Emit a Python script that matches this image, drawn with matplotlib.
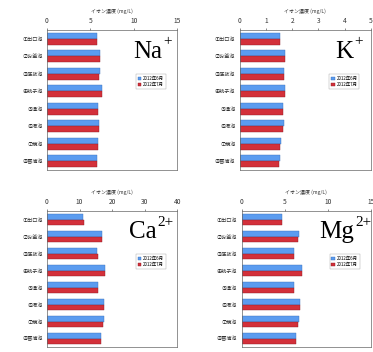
import numpy as np
import matplotlib.pyplot as plt

plt.rcParams['font.family'] = ['Noto Sans CJK JP', 'DejaVu Sans']

# Oshino Hakkai ponds
ponds = ['①出口池', '②お釜池', '③底抜池', '④銚子池', '⑤湧池', '⑥濁池', '⑦鏡池', '⑧菖蒲池']
series = ['2012年6月', '2012年7月']

na_jun = [5.8, 6.1, 6.1, 6.3, 5.9, 6.0, 5.9, 5.8]
na_jul = [5.8, 6.1, 6.0, 6.3, 5.9, 6.0, 5.9, 5.8]
k_jun = [1.53, 1.72, 1.70, 1.72, 1.64, 1.67, 1.56, 1.52]
k_jul = [1.53, 1.72, 1.69, 1.72, 1.63, 1.66, 1.53, 1.49]
ca_jun = [11.0, 16.9, 15.4, 17.8, 15.8, 17.5, 17.4, 16.7]
ca_jul = [11.3, 16.9, 15.6, 17.9, 15.7, 17.5, 17.1, 16.7]
mg_jun = [4.7, 6.65, 6.1, 6.95, 6.1, 6.75, 6.65, 6.35]
mg_jul = [4.7, 6.6, 6.1, 6.95, 6.1, 6.75, 6.55, 6.35]

panels = [
    ('Na', '+', na_jun, na_jul, 15, [0, 5, 10, 15]),
    ('K', '+', k_jun, k_jul, 5, [0, 1, 2, 3, 4, 5]),
    ('Ca', '2+', ca_jun, ca_jul, 40, [0, 10, 20, 30, 40]),
    ('Mg', '2+', mg_jun, mg_jul, 15, [0, 5, 10, 15]),
]

rects = [
    [0.126, 0.517, 0.349, 0.398],
    [0.643, 0.517, 0.351, 0.398],
    [0.126, 0.014, 0.349, 0.386],
    [0.648, 0.014, 0.346, 0.386],
]
label_x = [0.66, 0.73, 0.63, 0.60]

fig = plt.figure(figsize=(3.73, 3.52), dpi=100)
y = np.arange(len(ponds))
h = 0.34
for (ion, charge, jun, jul, xmax, ticks), rect, lx in zip(panels, rects, label_x):
    ax = fig.add_axes(rect)
    ax.barh(y - h / 2, jun, height=h, color='#5b9cf0', edgecolor='#3a6fb8',
            linewidth=0.3, label=series[0])
    ax.barh(y + h / 2, jul, height=h, color='#d3303a', edgecolor='#8e1c22',
            linewidth=0.3, label=series[1])
    ax.set_xlim(0, xmax)
    ax.set_xticks(ticks)
    ax.set_ylim(len(ponds) - 0.5, -0.5)
    ax.set_yticks(y)
    ax.set_yticklabels(ponds, fontsize=3.7, color='#333333')
    ax.xaxis.tick_top()
    ax.xaxis.set_label_position('top')
    ax.set_xlabel('イオン濃度 (mg/L)', fontsize=3.6, labelpad=3, color='#333333')
    ax.tick_params(axis='x', labelsize=4.8, length=1.5, width=0.4, pad=2, colors='#333333')
    ax.tick_params(axis='y', length=0, pad=3)
    for s in ax.spines.values():
        s.set_linewidth(0.5)
        s.set_color('#666666')
    base = ax.text(lx, 0.80, ion, transform=ax.transAxes, fontsize=18,
                   family='Liberation Serif', ha='left', va='baseline')
    ax.annotate(charge, xy=(1, 1), xycoords=base, xytext=(0.8, 4),
                textcoords='offset points', fontsize=11,
                family='Liberation Serif', ha='left', va='top')
    ax.legend(loc='upper right', bbox_to_anchor=(0.93, 0.70), fontsize=3.2,
              frameon=True, fancybox=False, edgecolor='#888888',
              handlelength=0.8, handleheight=0.6, borderpad=0.4,
              labelspacing=0.2, handletextpad=0.4).get_frame().set_linewidth(0.3)

fig.savefig('out.png', dpi=100)
